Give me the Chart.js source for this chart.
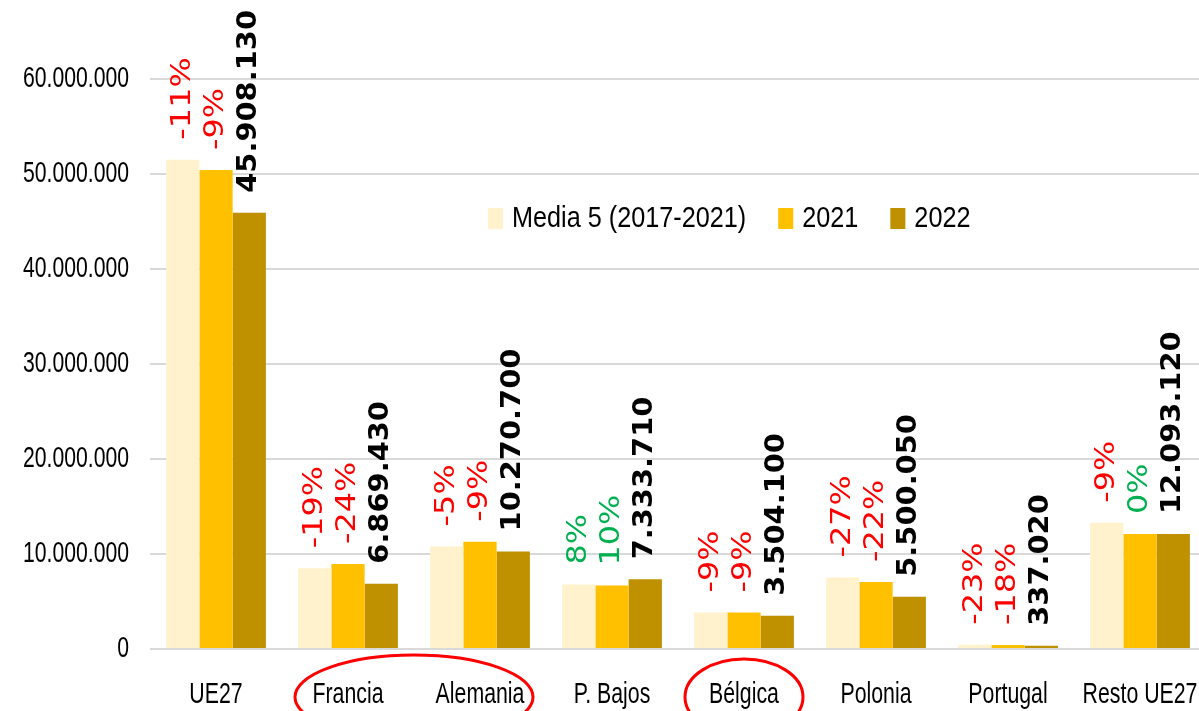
<!DOCTYPE html>
<html>
<head>
<meta charset="utf-8">
<script src="https://cdn.jsdelivr.net/npm/chart.js@4"></script>
<style>
  html, body { margin: 0; padding: 0; background: #fff; overflow: hidden; }
  .wrap { width: 1199px; height: 711px; overflow: hidden; }
</style>
</head>
<body>
<div class="wrap"><canvas id="chart" width="1206" height="711"></canvas></div>
<script>
const categories = ["UE27", "Francia", "Alemania", "P. Bajos", "Bélgica", "Polonia", "Portugal", "Resto UE27"];
const media5 = [51500000, 8500000, 10800000, 6780000, 3850000, 7520000, 440000, 13280000];
const values2021 = [50400000, 8950000, 11280000, 6670000, 3850000, 7050000, 410000, 12090000];
const values2022 = [45908130, 6869430, 10270700, 7333710, 3504100, 5500050, 337020, 12093120];
const pctVsMedia = [-11, -19, -5, 8, -9, -27, -23, -9];
const pctVs2021 = [-9, -24, -9, 10, -9, -22, -18, 0];
const seriesNames = ["Media 5 (2017-2021)", "2021", "2022"];
const yTickValues = [0, 10000000, 20000000, 30000000, 40000000, 50000000, 60000000];

const COLORS = ["#FFF2CC", "#FFC000", "#BF9000"];
const SANS = "'Liberation Sans', Arial, sans-serif";
const RED = "#FF0000";
const GREEN = "#00B050";

function formatThousands(v) {
  return String(Math.round(v)).replace(/\B(?=(\d{3})+(?!\d))/g, ".");
}

// draws text squeezed horizontally, the source uses a narrow font
function narrowText(ctx, text, x, y, squeeze, align) {
  ctx.save();
  ctx.translate(x, y);
  ctx.scale(squeeze, 1);
  ctx.textAlign = align;
  ctx.fillText(text, 0, 0);
  ctx.restore();
}

// rotated labels above each bar
const barLabels = {
  id: "barLabels",
  afterDatasetsDraw(chart) {
    const ctx = chart.ctx;
    chart.data.datasets.forEach((ds, i) => {
      const meta = chart.getDatasetMeta(i);
      meta.data.forEach((bar, j) => {
        let text, color, font, stretch;
        if (i === 2) {
          text = formatThousands(ds.data[j]);
          color = "#000";
          font = "bold 27px 'DejaVu Sans', Verdana, sans-serif";
          stretch = 1.07;
        } else {
          const p = i === 0 ? pctVsMedia[j] : pctVs2021[j];
          text = p + "%";
          color = p < 0 ? RED : GREEN;
          font = "27px 'DejaVu Sans', Verdana, sans-serif";
          stretch = 1.18;
        }
        ctx.save();
        ctx.translate(bar.x, bar.y - 20);
        ctx.rotate(-Math.PI / 2);
        ctx.scale(stretch, 1);
        ctx.font = font;
        ctx.fillStyle = color;
        ctx.textAlign = "left";
        ctx.textBaseline = "middle";
        ctx.fillText(text, 0, 0);
        ctx.restore();
      });
    });
  },
};

// tick labels for both axes
const axisText = {
  id: "axisText",
  afterDraw(chart) {
    const { ctx, chartArea } = chart;
    const xs = chart.scales.x;
    const ys = chart.scales.y;
    ctx.save();
    ctx.fillStyle = "#000";
    ctx.textBaseline = "middle";
    ctx.font = "29px " + SANS;
    ys.ticks.forEach((t) => {
      narrowText(ctx, formatThousands(t.value), chartArea.left - 21, ys.getPixelForValue(t.value), 0.73, "right");
    });
    ctx.font = "30px " + SANS;
    categories.forEach((c, i) => {
      narrowText(ctx, c, xs.getPixelForValue(i), chartArea.bottom + 46, 0.71, "center");
    });
    ctx.restore();
  },
};

// legend inside the plot area
const innerLegend = {
  id: "innerLegend",
  afterDraw(chart) {
    const ctx = chart.ctx;
    const y = 218;
    const squeeze = 0.87;
    let x = 488;
    ctx.save();
    ctx.font = "29px " + SANS;
    ctx.textBaseline = "middle";
    chart.data.datasets.forEach((ds) => {
      ctx.fillStyle = ds.backgroundColor;
      ctx.fillRect(x, y - 10, 15, 21);
      ctx.fillStyle = "#000";
      narrowText(ctx, ds.label, x + 24, y + 1, squeeze, "left");
      x += 24 + ctx.measureText(ds.label).width * squeeze + 32;
    });
    ctx.restore();
  },
};

// red ellipses marking some countries
const highlights = {
  id: "highlights",
  afterDraw(chart) {
    const ctx = chart.ctx;
    const xs = chart.scales.x;
    const marks = [
      { cx: (xs.getPixelForValue(1) + xs.getPixelForValue(2)) / 2, rx: 119, ry: 42 },
      { cx: xs.getPixelForValue(4), rx: 59, ry: 38 },
    ];
    ctx.save();
    ctx.strokeStyle = "#FF0000";
    ctx.lineWidth = 3;
    marks.forEach((m) => {
      ctx.beginPath();
      ctx.ellipse(m.cx, 697, m.rx, m.ry, 0, 0, Math.PI * 2);
      ctx.stroke();
    });
    ctx.restore();
  },
};

new Chart(document.getElementById("chart"), {
  type: "bar",
  data: {
    labels: categories,
    datasets: [media5, values2021, values2022].map((data, i) => ({
      label: seriesNames[i],
      data: data,
      backgroundColor: COLORS[i],
      borderWidth: 0,
      categoryPercentage: 0.756,
      barPercentage: 1,
    })),
  },
  options: {
    responsive: false,
    animation: false,
    layout: { padding: { left: 150, top: 0, right: 0, bottom: 62 } },
    plugins: {
      legend: { display: false },
      tooltip: { enabled: false },
      title: { display: false },
    },
    scales: {
      x: {
        grid: { display: false, drawTicks: false },
        border: { display: false },
        ticks: { display: false },
      },
      y: {
        min: 0,
        max: 68300000,
        border: { display: false },
        grid: { color: "#D9D9D9", lineWidth: 2, drawTicks: false },
        afterBuildTicks(scale) {
          scale.ticks = yTickValues.map((v) => ({ value: v }));
        },
        ticks: { display: false },
      },
    },
  },
  plugins: [barLabels, axisText, innerLegend, highlights],
});
</script>
</body>
</html>
